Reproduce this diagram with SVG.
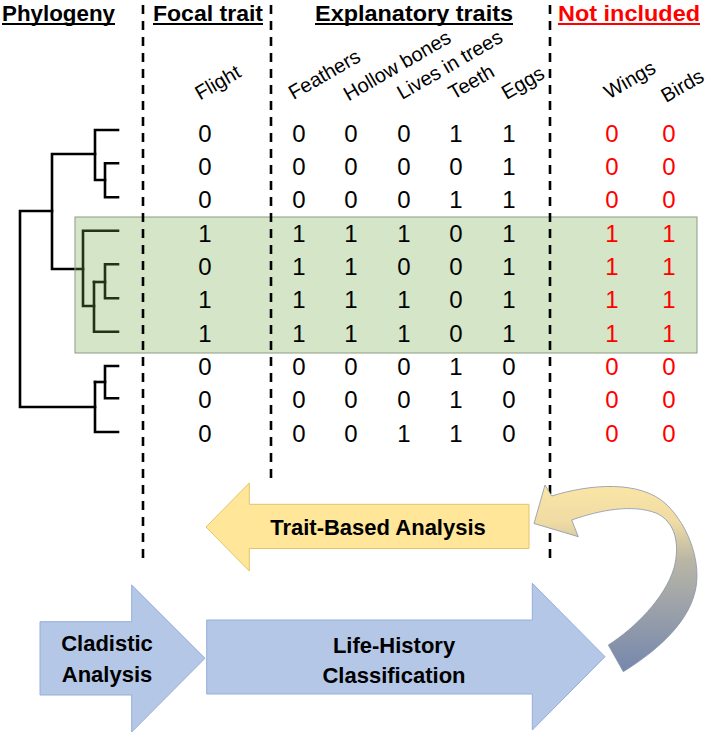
<svg xmlns="http://www.w3.org/2000/svg" width="706" height="733" viewBox="0 0 706 733">
<style>
.hdr{font-family:"Liberation Sans",Arial,sans-serif;font-weight:bold;font-size:22px;fill:#000}
.red{fill:#f00}
.lbl{font-family:"Liberation Sans",Arial,sans-serif;font-size:20px;fill:#000}
.dg{font-family:"Liberation Sans",Arial,sans-serif;font-size:24px;fill:#000;text-anchor:middle}
.dr{fill:#f00}
.big{font-family:"Liberation Sans",Arial,sans-serif;font-weight:bold;font-size:22px;fill:#000;text-anchor:middle}
.tree path{fill:none;stroke:#000;stroke-width:2.6;stroke-linecap:square}
.dash{stroke:#000;stroke-width:2.6;stroke-dasharray:9 7}
.ul{stroke:#000;stroke-width:2}
.blue{fill:#b4c7e7;stroke:#94aed8;stroke-width:1}
.yel{fill:#ffe699;stroke:#e2c46c;stroke-width:1}
</style>
<defs>
<linearGradient id="cg" x1="0" y1="485" x2="0" y2="672" gradientUnits="userSpaceOnUse">
<stop offset="0" stop-color="#fbe6a6"/>
<stop offset="0.2" stop-color="#efdba4"/>
<stop offset="0.4" stop-color="#b9b6a6"/>
<stop offset="1" stop-color="#7587ad"/>
</linearGradient>
</defs>
<rect width="706" height="733" fill="#fff"/>

<g id="headers">
<text class="hdr" x="2" y="21" textLength="113" lengthAdjust="spacingAndGlyphs">Phylogeny</text>
<line class="ul" x1="2" y1="24" x2="115" y2="24"/>
<text class="hdr" x="153" y="21" textLength="110" lengthAdjust="spacingAndGlyphs">Focal trait</text>
<line class="ul" x1="153" y1="24" x2="263" y2="24"/>
<text class="hdr" x="315" y="21" textLength="198" lengthAdjust="spacingAndGlyphs">Explanatory traits</text>
<line class="ul" x1="315" y1="24" x2="513" y2="24"/>
<text class="hdr red" x="558" y="21" textLength="142" lengthAdjust="spacingAndGlyphs">Not included</text>
<line class="ul" x1="558" y1="24" x2="700" y2="24" style="stroke:#f00"/>
</g>

<g id="trait-labels">
<text class="lbl" transform="translate(200,100.5) rotate(-30)">Flight</text>
<text class="lbl" transform="translate(293.5,100) rotate(-30)">Feathers</text>
<text class="lbl" transform="translate(348.5,101.5) rotate(-30)">Hollow bones</text>
<text class="lbl" transform="translate(402,100) rotate(-30)">Lives in trees</text>
<text class="lbl" transform="translate(453.5,100) rotate(-30)">Teeth</text>
<text class="lbl" transform="translate(506.5,100) rotate(-30)">Eggs</text>
<text class="lbl red" transform="translate(609,99.5) rotate(-30)">Wings</text>
<text class="lbl red" transform="translate(666,103) rotate(-30)">Birds</text>
</g>

<g id="connectors">
<g id="tree" class="tree">
<path d="M118,130 H95 V180 H105"/>
<path d="M118,163.3 H105 V197.3 H118"/>
<path d="M95,154 H52 V269 H83"/>
<path d="M52,211 H20 V407 H95"/>
<path d="M118,230.7 H83 V306 H94"/>
<path d="M94,282 V331.7 H118"/>
<path d="M94,282 H105"/>
<path d="M118,264.3 H105 V298.3 H118"/>
<path d="M95,382 V432 H118"/>
<path d="M95,382 H105"/>
<path d="M118,366 H105 V398.3 H118"/>
</g>
</g>

<g id="highlight">
<rect x="75" y="217" width="622" height="136" fill="#70ad47" fill-opacity="0.3" stroke="#8c9c84" stroke-width="1"/>
</g>

<g id="matrix">
<g class="dg">
<text x="205" y="141.7">0</text><text x="299" y="141.7">0</text><text x="351" y="141.7">0</text><text x="404" y="141.7">0</text><text x="456" y="141.7">1</text><text x="509" y="141.7">1</text>
<text x="205" y="175">0</text><text x="299" y="175">0</text><text x="351" y="175">0</text><text x="404" y="175">0</text><text x="456" y="175">0</text><text x="509" y="175">1</text>
<text x="205" y="208.3">0</text><text x="299" y="208.3">0</text><text x="351" y="208.3">0</text><text x="404" y="208.3">0</text><text x="456" y="208.3">1</text><text x="509" y="208.3">1</text>
<text x="205" y="241.7">1</text><text x="299" y="241.7">1</text><text x="351" y="241.7">1</text><text x="404" y="241.7">1</text><text x="456" y="241.7">0</text><text x="509" y="241.7">1</text>
<text x="205" y="275">0</text><text x="299" y="275">1</text><text x="351" y="275">1</text><text x="404" y="275">0</text><text x="456" y="275">0</text><text x="509" y="275">1</text>
<text x="205" y="308.3">1</text><text x="299" y="308.3">1</text><text x="351" y="308.3">1</text><text x="404" y="308.3">1</text><text x="456" y="308.3">0</text><text x="509" y="308.3">1</text>
<text x="205" y="341.7">1</text><text x="299" y="341.7">1</text><text x="351" y="341.7">1</text><text x="404" y="341.7">1</text><text x="456" y="341.7">0</text><text x="509" y="341.7">1</text>
<text x="205" y="375">0</text><text x="299" y="375">0</text><text x="351" y="375">0</text><text x="404" y="375">0</text><text x="456" y="375">1</text><text x="509" y="375">0</text>
<text x="205" y="408.3">0</text><text x="299" y="408.3">0</text><text x="351" y="408.3">0</text><text x="404" y="408.3">0</text><text x="456" y="408.3">1</text><text x="509" y="408.3">0</text>
<text x="205" y="441.7">0</text><text x="299" y="441.7">0</text><text x="351" y="441.7">0</text><text x="404" y="441.7">1</text><text x="456" y="441.7">1</text><text x="509" y="441.7">0</text>
</g>
<g class="dg dr">
<text x="612" y="141.7">0</text><text x="669" y="141.7">0</text>
<text x="612" y="175">0</text><text x="669" y="175">0</text>
<text x="612" y="208.3">0</text><text x="669" y="208.3">0</text>
<text x="612" y="241.7">1</text><text x="669" y="241.7">1</text>
<text x="612" y="275">1</text><text x="669" y="275">1</text>
<text x="612" y="308.3">1</text><text x="669" y="308.3">1</text>
<text x="612" y="341.7">1</text><text x="669" y="341.7">1</text>
<text x="612" y="375">0</text><text x="669" y="375">0</text>
<text x="612" y="408.3">0</text><text x="669" y="408.3">0</text>
<text x="612" y="441.7">0</text><text x="669" y="441.7">0</text>
</g>
</g>

<g id="dividers">
<line class="dash" x1="143" y1="5" x2="143" y2="564"/>
<line class="dash" x1="271" y1="5" x2="271" y2="478"/>
<line class="dash" x1="550" y1="5" x2="550" y2="564"/>
</g>

<g id="trait-based-analysis">
<polygon class="yel" points="206,527 249.3,483 249.3,504.3 529,504.3 529,548.5 249.3,548.5 249.3,571"/>
<text class="big" x="378" y="535">Trait-Based Analysis</text>
</g>

<g id="feedback-arrow">
<path d="M534,523.5 L545,485 L551.7,496 C590,484 640,480 666,504 C690,527 702,565 695,592 C687,625 655,652 623.3,671.7 L608.3,645 C635,628 665,598 674,568 C680,545 676,522 656,513 C632,504 600,510 571.7,520 L578.3,536.7 Z" fill="url(#cg)" stroke="#8a94a8" stroke-width="0.8"/>
</g>

<g id="cladistic-analysis">
<polygon class="blue" points="40,621.7 131.7,621.7 131.7,585 205,658.3 131.7,732 131.7,695 40,695"/>
<text class="big" x="107" y="651">Cladistic</text>
<text class="big" x="107" y="682">Analysis</text>
</g>

<g id="life-history-classification">
<polygon class="blue" points="206.7,620 532.3,620 532.3,583.3 605,656.7 532.3,730 532.3,694 206.7,694"/>
<text class="big" x="394" y="652.5">Life-History</text>
<text class="big" x="394" y="682.5">Classification</text>
</g>
</svg>
